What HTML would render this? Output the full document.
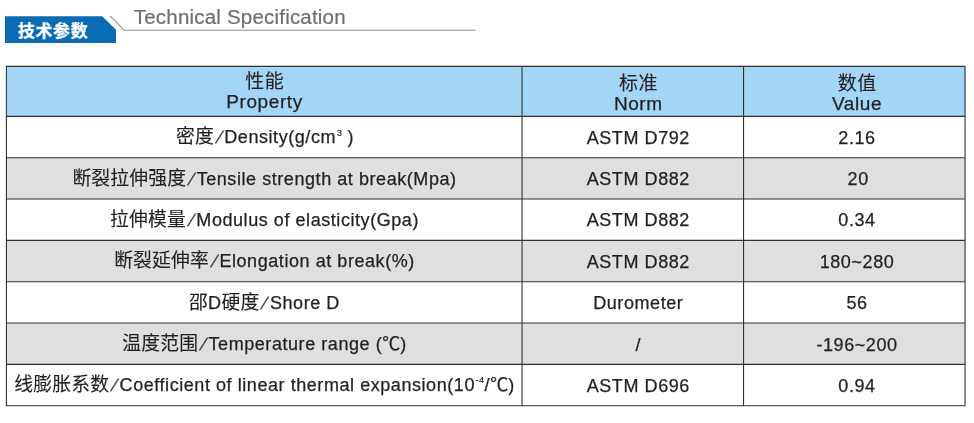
<!DOCTYPE html>
<html lang="zh"><head><meta charset="utf-8"><title>技术参数 Technical Specification</title>
<style>
html,body{margin:0;padding:0;background:#fff;}
body{width:974px;height:423px;position:relative;overflow:hidden;font-family:"Liberation Sans","Noto Sans CJK SC",sans-serif;color:#231f20;}
.abs{position:absolute;}
.badge{left:5px;top:16.3px;width:111px;height:27px;background:#0a6db3;clip-path:polygon(0 0,97.2px 0,111px 13.4px,111px 27px,0 27px);}
.badge span{position:absolute;left:12.9px;top:1.3px;-webkit-text-stroke:0.3px #fff;color:#fff;font-weight:700;font-size:17px;line-height:27px;letter-spacing:0.6px;white-space:nowrap;}
.title{left:133.8px;top:4.6px;font-size:20.5px;line-height:24px;color:#6e6e6e;-webkit-text-stroke:0.2px #6e6e6e;white-space:nowrap;letter-spacing:0.2px;}
.cell{-webkit-text-stroke:0.25px #231f20;position:absolute;white-space:nowrap;text-align:center;font-size:18px;letter-spacing:0.58px;line-height:24px;height:24px;}
.zh{font-size:18.8px;letter-spacing:0.2px;-webkit-text-stroke:0.12px #231f20;}
.dc{letter-spacing:0;}
.c0{letter-spacing:0.56px;}
.cell i{font-style:normal;letter-spacing:0;display:inline-block;width:10.4px;text-align:center;transform:skewX(-20deg);color:#444;position:relative;left:-0.4px;font-size:17px;}
.cell sup{font-size:9px;vertical-align:baseline;position:relative;top:-6.7px;letter-spacing:0;line-height:0;margin-left:0.9px;-webkit-text-stroke:0.2px #231f20;}
.cell sup.m4{top:-7.8px;letter-spacing:0.5px;margin-left:0.6px;}
.hc{font-size:19px;letter-spacing:0.6px;}
.hc .zh{font-size:19px;letter-spacing:0.6px;margin-left:0.6px;}
.mk{display:inline-block;width:0;height:0;}
</style></head>
<body>
<div class="abs badge"><span>技术参数</span></div>
<svg class="abs" style="left:0;top:0" width="974" height="60" viewBox="0 0 974 60"><path d="M110 15.8 L124.3 30.3 L475.5 30.3" fill="none" stroke="#8a8a8a" stroke-width="1.1"/></svg>
<div class="abs title">Technical Specification</div>
<svg class="abs" style="left:0;top:0" width="974" height="423" viewBox="0 0 974 423"><rect x="6.40" y="66.40" width="958.65" height="49.95" fill="#a3d5f6"/><rect x="6.40" y="157.69" width="958.65" height="41.34" fill="#dfdfdf"/><rect x="6.40" y="240.35" width="958.65" height="41.34" fill="#dfdfdf"/><rect x="6.40" y="323.02" width="958.65" height="41.34" fill="#dfdfdf"/><path d="M5.85 66.40H965.60M5.85 116.35H965.60M5.85 157.69H965.60M5.85 199.02H965.60M5.85 240.35H965.60M5.85 281.69H965.60M5.85 323.02H965.60M5.85 364.36H965.60M5.85 405.70H965.60M6.40 65.85V406.25M522.05 65.85V406.25M743.55 65.85V406.25M965.05 65.85V406.25" fill="none" stroke="#303030" stroke-width="1.08"/></svg>
<div class="cell hc" style="left:6.5px;width:516.0px;top:70.0px"><span class="zh">性能</span></div>
<div class="cell hc" style="left:6.5px;width:516.0px;top:90.0px">Property</div>
<div class="cell hc" style="left:527.8px;width:221.0px;top:72.0px"><span class="zh">标准</span></div>
<div class="cell hc" style="left:527.8px;width:221.0px;top:92.0px">Norm</div>
<div class="cell hc" style="left:746.0px;width:222.0px;top:72.0px"><span class="zh">数值</span></div>
<div class="cell hc" style="left:746.0px;width:222.0px;top:92.0px">Value</div>
<div class="cell c0" style="left:7.0px;width:516.0px;top:125px"><span class="zh">密度</span><i>/</i>Density(g/cm<sup>3</sup> )</div>
<div class="cell" style="left:527.8px;width:221.0px;top:126px">ASTM D792</div>
<div class="cell" style="left:746.0px;width:222.0px;top:126px">2.16</div>
<div class="cell c0" style="left:6.5px;width:516.0px;top:167px"><span class="zh">断裂拉伸强度</span><i>/</i>Tensile strength at break(Mpa)</div>
<div class="cell" style="left:527.8px;width:221.0px;top:167px">ASTM D882</div>
<div class="cell" style="left:747.2px;width:222.0px;top:167px">20</div>
<div class="cell c0" style="left:6.5px;width:516.0px;top:208px"><span class="zh">拉伸模量</span><i>/</i>Modulus of elasticity(Gpa)</div>
<div class="cell" style="left:527.8px;width:221.0px;top:208px">ASTM D882</div>
<div class="cell" style="left:746.0px;width:222.0px;top:208px">0.34</div>
<div class="cell c0" style="left:6.5px;width:516.0px;top:249px"><span class="zh">断裂延伸率</span><i>/</i>Elongation at break(%)</div>
<div class="cell" style="left:527.8px;width:221.0px;top:250px">ASTM D882</div>
<div class="cell" style="left:746.0px;width:222.0px;top:250px">180~280</div>
<div class="cell c0" style="left:6.5px;width:516.0px;top:291px"><span class="zh">邵</span>D<span class="zh">硬度</span><i>/</i>Shore D</div>
<div class="cell" style="left:527.8px;width:221.0px;top:291px">Durometer</div>
<div class="cell" style="left:746.0px;width:222.0px;top:291px">56</div>
<div class="cell c0" style="left:6.5px;width:516.0px;top:332px"><span class="zh">温度范围</span><i>/</i>Temperature range (<span class="dc">℃</span>)</div>
<div class="cell" style="left:527.8px;width:221.0px;top:333px">/</div>
<div class="cell" style="left:746.0px;width:222.0px;top:333px">-196~200</div>
<div class="cell c0" style="left:6.5px;width:516.0px;top:373px"><span class="zh">线膨胀系数</span><i>/</i>Coefficient of linear thermal expansion(10<sup class='m4'>-4</sup>/<span class="dc">℃</span>)</div>
<div class="cell" style="left:527.8px;width:221.0px;top:374px">ASTM D696</div>
<div class="cell" style="left:746.0px;width:222.0px;top:374px">0.94</div>
</body></html>
